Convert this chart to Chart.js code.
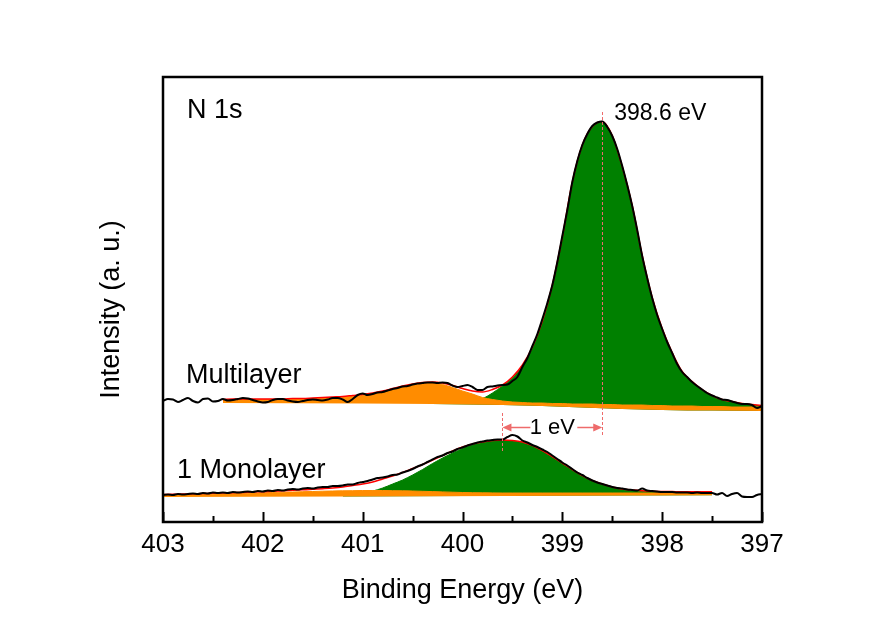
<!DOCTYPE html>
<html>
<head>
<meta charset="utf-8">
<script src="https://cdn.jsdelivr.net/npm/chart.js@4.4.1/dist/chart.umd.min.js"></script>
<style>
  html, body { margin: 0; padding: 0; background: #fff; }
  #wrap { width: 872px; height: 619px; }
</style>
</head>
<body>
<div id="wrap"><canvas id="xps" width="872" height="619"></canvas></div>
<script>
// binding energy grids (eV)
const compEnergy = [
  403.0, 402.9, 402.8, 402.7, 402.6, 402.5, 402.4, 402.3, 402.2, 402.1,
  402.0, 401.9, 401.8, 401.7, 401.6, 401.5, 401.4, 401.3, 401.2, 401.1,
  401.0, 400.9, 400.8, 400.7, 400.6, 400.5, 400.4, 400.3, 400.2, 400.1,
  400.0, 399.9, 399.8, 399.7, 399.6, 399.5, 399.4, 399.3, 399.2, 399.1,
  399.0, 398.9, 398.8, 398.7, 398.6, 398.5, 398.4, 398.3, 398.2, 398.1,
  398.0, 397.9, 397.8, 397.7, 397.6, 397.5, 397.4, 397.3, 397.2, 397.1,
  397.0
];
const rawEnergy = [
  403.00, 402.95, 402.90, 402.85, 402.80, 402.75, 402.70, 402.65, 402.60, 402.55,
  402.50, 402.45, 402.40, 402.35, 402.30, 402.25, 402.20, 402.15, 402.10, 402.05,
  402.00, 401.95, 401.90, 401.85, 401.80, 401.75, 401.70, 401.65, 401.60, 401.55,
  401.50, 401.45, 401.40, 401.35, 401.30, 401.25, 401.20, 401.15, 401.10, 401.05,
  401.00, 400.95, 400.90, 400.85, 400.80, 400.75, 400.70, 400.65, 400.60, 400.55,
  400.50, 400.45, 400.40, 400.35, 400.30, 400.25, 400.20, 400.15, 400.10, 400.05,
  400.00, 399.95, 399.90, 399.85, 399.80, 399.75, 399.70, 399.65, 399.60, 399.55,
  399.50, 399.45, 399.40, 399.35, 399.30, 399.25, 399.20, 399.15, 399.10, 399.05,
  399.00, 398.95, 398.90, 398.85, 398.80, 398.75, 398.70, 398.65, 398.60, 398.55,
  398.50, 398.45, 398.40, 398.35, 398.30, 398.25, 398.20, 398.15, 398.10, 398.05,
  398.00, 397.95, 397.90, 397.85, 397.80, 397.75, 397.70, 397.65, 397.60, 397.55,
  397.50, 397.45, 397.40, 397.35, 397.30, 397.25, 397.20, 397.15, 397.10, 397.05,
  397.00
];
const xTicks = [403, 402, 401, 400, 399, 398, 397];

// multilayer (intensity, a.u., offset trace)
const multiRaw = [
  121, 123, 122.5, 120, 122, 124, 121, 119.5, 123, 123.5,
  120.5, 121, 123, 121.5, 122, 123, 124, 123.5, 122, 120.5,
  119.5, 120, 122, 123, 123, 121.5, 120.5, 120, 121, 122,
  122.5, 122, 121.5, 122.5, 124, 124, 122.5, 120, 123, 127,
  128.5, 127, 128, 129.5, 130, 131.5, 133, 134, 135.5, 136,
  137.5, 138.5, 139, 139.5, 139.5, 139, 139.5, 139, 136.5, 135,
  136, 137, 135, 132, 132, 135, 135.5, 136.5, 137, 137.5,
  141, 145, 155, 164, 176, 188, 203, 219, 237, 260,
  286, 312, 340, 361, 377, 388, 396, 399.5, 400.5, 395,
  386, 373, 356, 337, 316, 292, 266, 244, 224, 207,
  193, 180, 169, 158, 150, 145, 140, 136, 132.5, 129,
  126.5, 124.5, 122.5, 122, 120.5, 119, 118, 118, 117, 114,
  116
];
const multiFit = [
  null, null, null, null, null, null, 122.5, 123, 123, 123,
  123, 123, 123, 123.5, 123.5, 124, 124.5, 125, 125.5, 126.5,
  127.5, 129, 131, 133.5, 136, 138, 139.5, 140, 139, 136.5,
  133.5, 131, 130, 132.5, 137, 145, 157, 175, 201, 237,
  285, 340, 377, 395.5, 400.5, 386.5, 355.5, 316.5, 266.5, 224.5,
  193.5, 169.5, 150.5, 140.5, 132.5, 126.5, 122.5, 120.5, 118.5, 117.5,
  116.5
];
const multiN2 = [
  null, null, null, null, null, null, 122, 122.5, 122.5, 122.5,
  122.5, 122.5, 122.5, 123, 123, 123.5, 124, 124.5, 125, 125.5,
  126.5, 128, 130, 132.5, 135, 137, 138.5, 139, 137.5, 134.5,
  131, 128, 124.5, 122.5, 121, 120, 119.5, 119, 119, 118.5,
  118.5, 118, 118, 118, 117.5, 117.5, 117, 117, 117, 116.5,
  116.5, 116, 116, 116, 115.5, 115.5, 115.5, 115, 115, 115,
  115
];
const multiN1 = [
  null, null, null, null, null, null, null, null, null, null,
  null, null, null, null, null, null, null, null, null, null,
  null, null, null, null, null, null, null, 121, 121, 121,
  121, 122, 123.5, 129, 136, 144, 156, 174, 200, 236,
  284, 339, 376, 395, 400, 386, 355, 316, 266, 224,
  193, 169, 150, 140, 132, 126, 122, 120, 118, 117,
  116
];
const multiBaseEnergy = [402.4, 399.6, 398.0, 397.0];
const multiBase = [119, 117, 112, 111];

// 1 monolayer
const monoRaw = [
  27, 27.5, 27, 28, 27.5, 28, 28.5, 28, 29, 28.5,
  29.5, 29, 29.5, 29, 30, 29.5, 30, 30.5, 30, 31,
  30.5, 31.5, 31, 32, 31.5, 32.5, 33, 32.5, 33.5, 34,
  33.5, 34.5, 35, 35, 36, 36, 36.5, 37.5, 37.5, 39,
  40, 41, 42.5, 44, 44.5, 45.5, 47, 47.5, 49.5, 51,
  53, 55.5, 57.5, 60, 62.5, 65, 66.5, 69, 70.5, 73,
  74.5, 76.5, 78, 79.5, 80.5, 81.5, 82, 82.5, 82.5, 85,
  87, 85.5, 81.5, 79.5, 77, 75, 72.5, 70, 66.5, 63,
  59.5, 56.5, 53, 49.5, 47, 44, 41.5, 39.5, 38, 36.5,
  35, 34, 33.5, 32.5, 32, 31.5, 33.5, 31.5, 31, 30.5,
  30, 30, 30, 29.5, 29.5, 29.5, 29, 29.5, 29, 29,
  29, 27.5, 29, 26, 28, 29, 25.5, 25, 25, 27,
  28
];
const monoFit = [
  27.5, 27.7, 28, 28.2, 28.5, 28.7, 29, 29.3, 29.6, 30,
  30.3, 30.7, 31.2, 31.7, 32.2, 32.7, 33.3, 34, 35, 36.5,
  38, 40, 43, 46, 49.5, 53.5, 57.5, 62, 66.5, 71,
  75, 78, 80, 81.5, 82, 81.5, 80, 76.5, 71.5, 65.5,
  59, 52.5, 46.5, 41.5, 38, 35, 33, 32, 31.3, 30.8,
  30.5, 30.4, 30.3, 30.3, 30.3, 30.3, null, null, null, null,
  null
];
const monoN2 = [
  26.8, 27, 27.2, 27.4, 27.6, 27.8, 28, 28.3, 28.6, 28.9,
  29.2, 29.5, 29.8, 30, 30.3, 30.5, 30.8, 31, 31.2, 31.3,
  31.5, 31.5, 31.5, 31.3, 31.2, 31, 30.7, 30.4, 30.1, 29.8,
  29.5, 29.3, 29.2, 29.1, 29, 29, 29, 29, 29, 29,
  29, 29, 29, 29, 29, 29, 29, 29, 29, 29,
  29, 29, 29, 29, 29, 29, null, null, null, null,
  null
];
const monoN1 = [
  null, null, null, null, null, null, null, null, null, null,
  null, null, null, null, null, null, null, null, 28.5, 29,
  29.5, 31, 34, 38, 42, 47, 52.5, 58.5, 64, 69,
  73.5, 77, 79.5, 81, 81.5, 81, 79.5, 76, 71, 65,
  58.5, 52, 46, 41, 37.5, 34.5, 32.5, 31.5, 30.8, 30.3,
  30, 29.8, 29.8, 29.8, 29.8, 29.8, null, null, null, null,
  null
];
const monoBaseEnergy = [403.0, 397.5];
const monoBase = [25, 26.8];

const multiPeak = 398.6;
const monoPeak = 399.6;

const FONT = "'Liberation Sans', Arial, sans-serif";
const GREEN = '#008000';
const ORANGE = '#ff8c00';
const FIT = '#ff0000';
const GUIDE = '#ee6b6b';

function points(xs, ys) {
  const out = [];
  xs.forEach((x, i) => {
    if (ys[i] !== null) out.push({ x: x, y: ys[i] });
  });
  return out;
}

function trace(label, data, color, width, order, extra) {
  return Object.assign({
    label: label,
    data: data,
    borderColor: color,
    borderWidth: width,
    pointRadius: 0,
    cubicInterpolationMode: 'monotone',
    fill: false,
    order: order
  }, extra || {});
}

const datasets = [
  trace('Multilayer', points(rawEnergy, multiRaw), '#000', 2, 1),
  trace('Multilayer fit', points(compEnergy, multiFit), FIT, 1.5, 2),
  trace('Multilayer N2', points(compEnergy, multiN2), ORANGE, 1, 3, { backgroundColor: ORANGE, fill: 4 }),
  trace('Multilayer N1', points(compEnergy, multiN1), GREEN, 1, 4, { backgroundColor: GREEN, fill: 4 }),
  trace('Multilayer bg', points(multiBaseEnergy, multiBase), 'rgba(0,0,0,0)', 1, 5),
  trace('1 Monolayer', points(rawEnergy, monoRaw), '#000', 2, 1),
  trace('1 Monolayer fit', points(compEnergy, monoFit), FIT, 1.5, 2),
  trace('1 Monolayer N2', points(compEnergy, monoN2), ORANGE, 1, 3, { backgroundColor: ORANGE, fill: 9 }),
  trace('1 Monolayer N1', points(compEnergy, monoN1), GREEN, 1, 4, { backgroundColor: GREEN, fill: 9 }),
  trace('1 Monolayer bg', points(monoBaseEnergy, monoBase), 'rgba(0,0,0,0)', 1, 5)
];

// frame, inner ticks, guides and labels
const decor = {
  id: 'decor',
  afterDatasetsDraw(chart) {
    const { ctx, chartArea: a, scales: { x, y } } = chart;
    ctx.save();

    ctx.strokeStyle = GUIDE;
    ctx.fillStyle = GUIDE;
    ctx.lineWidth = 1;
    ctx.setLineDash([3, 2]);
    [[multiPeak, 410, 85], [monoPeak, 109, 70]].forEach(g => {
      const px = Math.round(x.getPixelForValue(g[0])) + 0.5;
      ctx.beginPath();
      ctx.moveTo(px, y.getPixelForValue(g[1]));
      ctx.lineTo(px, y.getPixelForValue(g[2]));
      ctx.stroke();
    });
    ctx.setLineDash([]);
    ctx.lineWidth = 1.5;
    const ay = Math.round(y.getPixelForValue(95)) + 0.5;
    [[399.32, monoPeak], [398.85, multiPeak]].forEach(ar => {
      const x0 = x.getPixelForValue(ar[0]);
      const x1 = x.getPixelForValue(ar[1]);
      const dir = x1 > x0 ? 1 : -1;
      ctx.beginPath();
      ctx.moveTo(x0, ay);
      ctx.lineTo(x1 - dir * 6, ay);
      ctx.stroke();
      ctx.beginPath();
      ctx.moveTo(x1, ay);
      ctx.lineTo(x1 - dir * 9, ay - 4);
      ctx.lineTo(x1 - dir * 9, ay + 4);
      ctx.closePath();
      ctx.fill();
    });

    ctx.strokeStyle = '#000';
    ctx.lineWidth = 2.5;
    ctx.strokeRect(a.left, a.top, a.right - a.left, a.bottom - a.top);
    ctx.lineWidth = 2;
    xTicks.forEach(t => {
      [t, t - 0.5].forEach((v, k) => {
        if (v < 397) return;
        const px = Math.round(x.getPixelForValue(v)) + 0.5;
        ctx.beginPath();
        ctx.moveTo(px, a.bottom);
        ctx.lineTo(px, a.bottom - (k === 0 ? 10 : 6));
        ctx.stroke();
      });
    });

    ctx.fillStyle = '#000';
    ctx.textBaseline = 'alphabetic';
    ctx.textAlign = 'left';
    ctx.font = '27px ' + FONT;
    ctx.fillText('N 1s', x.getPixelForValue(402.76), y.getPixelForValue(404));
    ctx.fillText('Multilayer', x.getPixelForValue(402.77), y.getPixelForValue(139));
    ctx.fillText('1 Monolayer', x.getPixelForValue(402.86), y.getPixelForValue(44));
    ctx.font = '23px ' + FONT;
    ctx.fillText('398.6 eV', x.getPixelForValue(398.48), y.getPixelForValue(402));
    ctx.font = '22px ' + FONT;
    ctx.textAlign = 'center';
    ctx.fillText('1 eV', x.getPixelForValue(399.1), y.getPixelForValue(88));

    ctx.font = '27px ' + FONT;
    ctx.textBaseline = 'middle';
    ctx.translate(a.left - 51, (a.top + a.bottom) / 2 + 10);
    ctx.rotate(-Math.PI / 2);
    ctx.fillText('Intensity (a. u.)', 0, 0);
    ctx.restore();
  }
};

new Chart(document.getElementById('xps'), {
  type: 'line',
  data: { datasets: datasets },
  options: {
    responsive: false,
    animation: false,
    devicePixelRatio: 1,
    layout: { padding: { top: 77, right: 110, left: 163, bottom: 0 } },
    plugins: { legend: { display: false }, tooltip: { enabled: false } },
    scales: {
      x: {
        type: 'linear',
        reverse: true,
        min: 397,
        max: 403,
        grid: { display: false, drawTicks: false },
        border: { display: false },
        ticks: {
          stepSize: 1,
          padding: 7,
          maxRotation: 0,
          color: '#000',
          font: { family: FONT, size: 26 },
          callback: v => String(v)
        },
        title: {
          display: true,
          text: 'Binding Energy (eV)',
          color: '#000',
          font: { family: FONT, size: 27 },
          padding: { top: 0, bottom: 12 }
        },
        afterFit: s => { s.height = 97; }
      },
      y: { type: 'linear', min: 0, max: 445, display: false }
    }
  },
  plugins: [decor]
});
</script>
</body>
</html>
